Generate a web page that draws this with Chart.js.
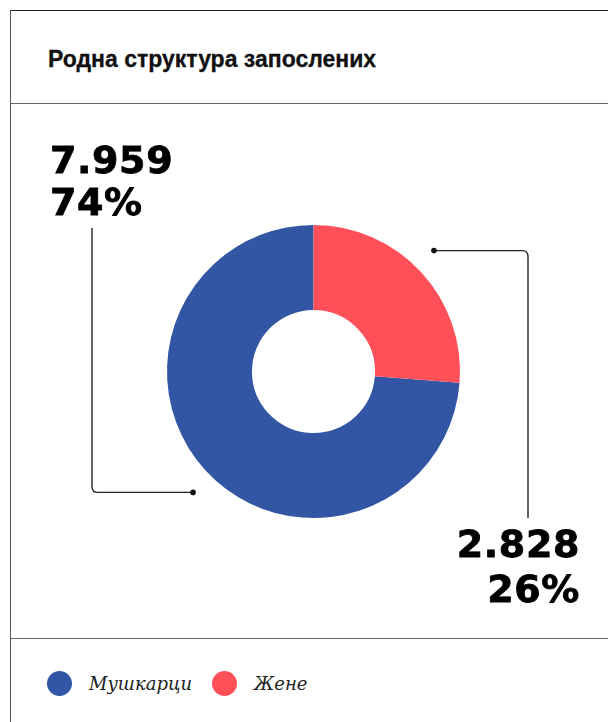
<!DOCTYPE html>
<html>
<head>
<meta charset="utf-8">
<script src="https://cdn.jsdelivr.net/npm/chart.js@4.4.1/dist/chart.umd.min.js"></script>
<style>
    html, body { margin: 0; padding: 0; width: 608px; height: 722px; overflow: hidden; background: #fff; }
    .frame { position: absolute; left: 10px; top: 10px; width: 700px; height: 800px;
        border-left: 1px solid #555; border-top: 1px solid #222; }
    .rule { position: absolute; left: 11px; width: 700px; height: 0; border-top: 1.5px solid #666; }
    h1 { position: absolute; left: 48px; top: 46px; margin: 0; font: bold 23px "Liberation Sans", Arial, sans-serif; color: #111;
        -webkit-text-stroke: 0.3px #111; }
    .chart-box { position: absolute; left: 11px; top: 105px; width: 597px; height: 533px; }
    .big { position: absolute; font: bold 38px "DejaVu Sans", sans-serif; color: #000; white-space: pre;
        letter-spacing: 0.6px; -webkit-text-stroke: 0.8px #000; }
    #labelLeft { left: 50px; top: 139px; line-height: 42px; text-align: left; }
    #labelRight { right: 28px; top: 522px; line-height: 45px; text-align: right; }
    .legend { position: absolute; left: 47px; top: 670px; height: 26px; display: flex; align-items: center; }
    .legend .dot { width: 25px; height: 25px; border-radius: 50%; }
    .legend .txt { font: italic 18px "DejaVu Serif", serif; color: #222; margin-left: 17px; margin-right: 20px; }
</style>
</head>
<body>
<div class="frame"></div>
<div class="rule" style="top:103px"></div>
<div class="rule" style="top:638px"></div>
<h1>Родна структура запослених</h1>
<div class="chart-box"><canvas id="genderChart" width="597" height="533"></canvas></div>
<div class="big" id="labelLeft"></div>
<div class="big" id="labelRight"></div>
<div class="legend" id="legend"></div>

<script>
const categories = ['Мушкарци', 'Жене'];
const employees = [7959, 2828];
const sliceColors = ['#3256a4', '#ff505a'];

const total = employees.reduce((a, b) => a + b, 0);

function formatNumber(n) {
    return String(n).replace(/\B(?=(\d{3})+(?!\d))/g, '.');
}

function percent(n) {
    return Math.round(n / total * 100) + '%';
}

document.getElementById('labelLeft').textContent = formatNumber(employees[0]) + '\n' + percent(employees[0]);
document.getElementById('labelRight').textContent = formatNumber(employees[1]) + '\n' + percent(employees[1]);

const legend = document.getElementById('legend');
categories.forEach((name, i) => {
    const dot = document.createElement('span');
    dot.className = 'dot';
    dot.style.background = sliceColors[i];
    const txt = document.createElement('span');
    txt.className = 'txt';
    txt.textContent = name;
    legend.appendChild(dot);
    legend.appendChild(txt);
});

// elbow x and end y of each leader line, in canvas pixels
const leaders = [
    { elbowX: 81, endY: 123 },
    { elbowX: 517, endY: 413 }
];

const leaderLines = {
    id: 'leaderLines',
    afterDatasetsDraw(chart) {
        const ctx = chart.ctx;
        const arcs = chart.getDatasetMeta(0).data;
        ctx.save();
        ctx.strokeStyle = '#222';
        ctx.fillStyle = '#111';
        ctx.lineWidth = 1.4;
        arcs.forEach((arc, i) => {
            const p = arc.getProps(['x', 'y', 'startAngle', 'endAngle', 'outerRadius'], true);
            // dots sit a little before the middle of the slice
            const mid = (p.startAngle + p.endAngle) / 2 - 0.04;
            const r = p.outerRadius * 1.165;
            const dx = p.x + Math.cos(mid) * r;
            const dy = p.y + Math.sin(mid) * r;
            const l = leaders[i];
            const sx = Math.sign(l.elbowX - dx);
            const sy = Math.sign(l.endY - dy);
            const rad = 6;
            ctx.beginPath();
            ctx.moveTo(dx, dy);
            ctx.lineTo(l.elbowX - sx * rad, dy);
            ctx.quadraticCurveTo(l.elbowX, dy, l.elbowX, dy + sy * rad);
            ctx.lineTo(l.elbowX, l.endY);
            ctx.stroke();
            ctx.beginPath();
            ctx.arc(dx, dy, 2.8, 0, Math.PI * 2);
            ctx.fill();
        });
        ctx.restore();
    }
};

new Chart(document.getElementById('genderChart'), {
    type: 'doughnut',
    data: {
        labels: categories,
        datasets: [{
            data: employees,
            backgroundColor: sliceColors,
            borderWidth: 0
        }]
    },
    options: {
        responsive: false,
        animation: false,
        cutout: '42%',
        rotation: employees[1] / total * 360,
        layout: { padding: { left: 156, right: 148, top: 120, bottom: 120 } },
        plugins: {
            legend: { display: false },
            tooltip: { enabled: false }
        }
    },
    plugins: [leaderLines]
});
</script>
</body>
</html>
